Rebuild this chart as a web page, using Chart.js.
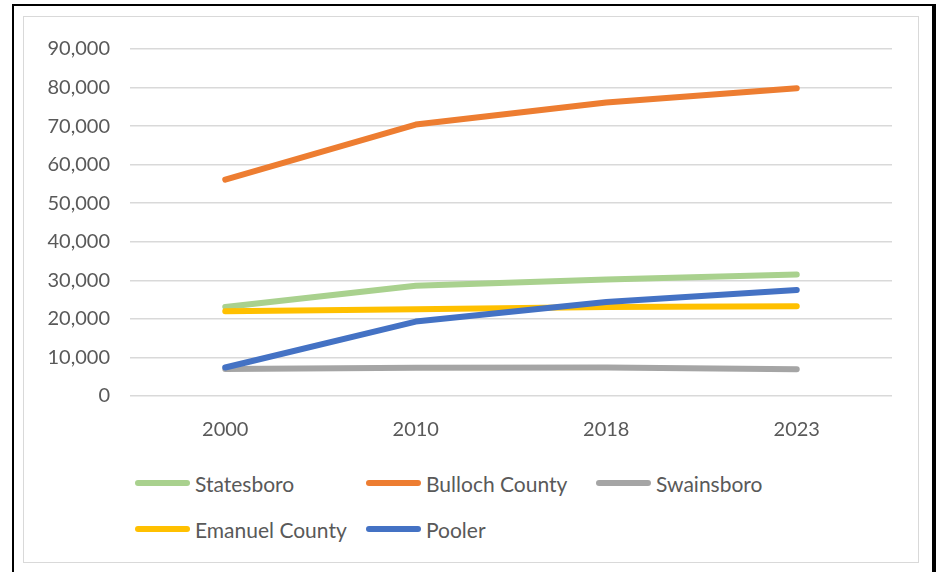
<!DOCTYPE html>
<html>
<head>
<meta charset="utf-8">
<script src="https://cdn.jsdelivr.net/npm/chart.js@4"></script>
<style>
  html, body { margin: 0; padding: 0; background: #fff; }
  body { width: 940px; height: 572px; position: relative; overflow: hidden; font-family: Lato, "Open Sans", sans-serif; }
  .frame { position: absolute; left: 12px; top: 4px; width: 918px; height: 580px; border-left: 2px solid #000; border-top: 2px solid #000; border-right: 4px solid #000; }
  .inner { position: absolute; left: 23px; top: 16px; width: 894px; height: 545px; border: 1px solid #d9d9d9; }
  .wrap { position: absolute; left: 24px; top: 17px; width: 893px; height: 440px; }
  .legend { position: absolute; left: 135px; top: 469px; display: grid; grid-template-columns: 231px 230px 230px; row-gap: 18px; }
  .item { display: flex; align-items: center; height: 28px; font-size: 21px; color: #595959; }
  .swatch { width: 55px; height: 6px; border-radius: 3px; margin-right: 5px; }
</style>
</head>
<body>
<div class="frame"></div>
<div class="inner"></div>
<div class="wrap"><canvas id="chart"></canvas></div>
<div class="legend" id="legend"></div>
<script>
// population by place
const years = ['2000', '2010', '2018', '2023'];
const statesboro = [23100, 28600, 30200, 31500];
const bullochCounty = [56100, 70400, 76100, 79800];
const swainsboro = [7000, 7300, 7400, 6950];
const emanuelCounty = [22000, 22500, 23100, 23250];
const pooler = [7400, 19300, 24400, 27500];

const seriesNames = ['Statesboro', 'Bulloch County', 'Swainsboro', 'Emanuel County', 'Pooler'];
const seriesData = [statesboro, bullochCounty, swainsboro, emanuelCounty, pooler];
const seriesColors = ['#a9d18e', '#ed7d31', '#a5a5a5', '#ffc000', '#4472c4'];

const yTicks = [0, 10000, 20000, 30000, 40000, 50000, 60000, 70000, 80000, 90000];

const tickFont = {family: 'Lato, "Open Sans", sans-serif', size: 20};

new Chart(document.getElementById('chart').getContext('2d'), {
  type: 'line',
  data: {
    labels: years,
    datasets: seriesNames.map((name, i) => ({
      label: name,
      data: seriesData[i],
      borderColor: seriesColors[i],
      backgroundColor: seriesColors[i],
      borderWidth: 6,
      borderCapStyle: 'round',
      borderJoinStyle: 'round',
      pointRadius: 0,
      tension: 0,
      fill: false,
      order: seriesNames.length - i
    }))
  },
  options: {
    responsive: true, maintainAspectRatio: false,
    animation: false,
    layout: {padding: {top: 29, right: 25, bottom: 0, left: 0}},
    scales: {
      x: {
        offset: true,
        grid: {display: false, drawTicks: false},
        border: {display: false},
        ticks: {color: '#595959', font: tickFont, padding: 22, maxRotation: 0},
        afterFit: s => { s.height = 61; }
      },
      y: {
        min: 0, max: 90000,
        grid: {color: '#d9d9d9', lineWidth: 1.5, drawTicks: false},
        border: {display: false},
        afterBuildTicks: s => { s.ticks = yTicks.map(v => ({value: v})); },
        ticks: {color: '#595959', font: tickFont, padding: 20, callback: v => v.toLocaleString('en-US')},
        afterFit: s => { s.width = 106; }
      }
    },
    plugins: {
      legend: {display: false},
      tooltip: {enabled: false}
    }
  }
});

document.getElementById('legend').innerHTML = seriesNames.map((name, i) =>
  `<div class="item"><span class="swatch" style="background:${seriesColors[i]}"></span>${name}</div>`
).join('');
</script>
</body>
</html>
